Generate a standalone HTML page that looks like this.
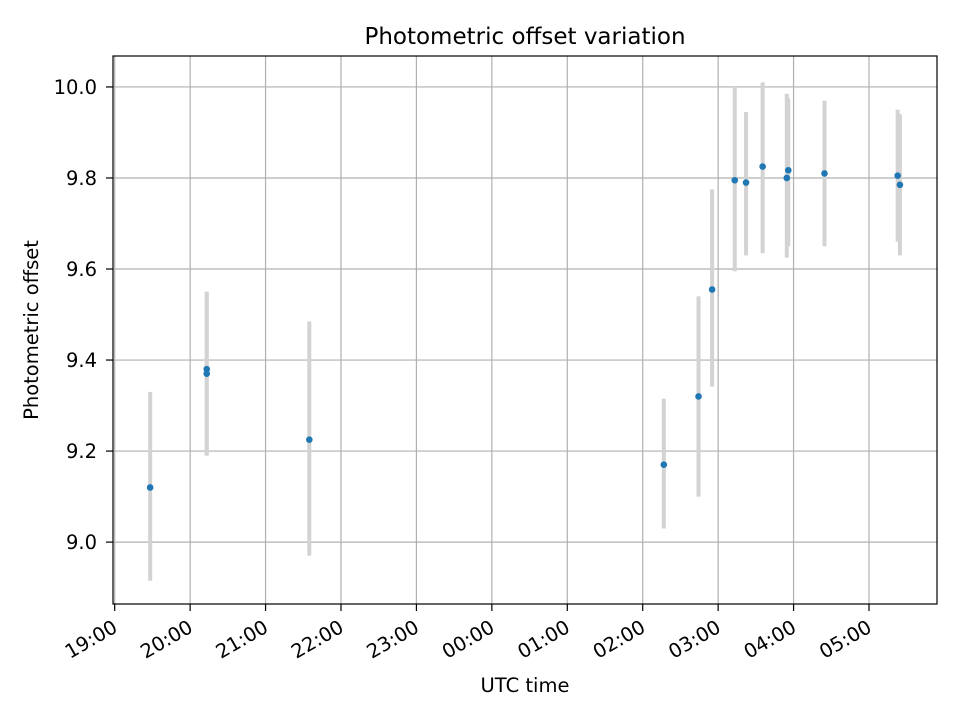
<!DOCTYPE html>
<html><head><meta charset="utf-8"><style>
body{margin:0;background:#fff;}
svg text{font-family:"DejaVu Sans","Liberation Sans",sans-serif;fill:#000;}
</style></head><body>
<svg id="chart" width="960" height="720" xmlns="http://www.w3.org/2000/svg">
<rect width="960" height="720" fill="#fff"/>
<g id="grid"></g><g id="bars"></g><g id="pts"></g><g id="axes"></g>
</svg>
<script>
const hours = [0.47,1.22,1.22,2.58,7.28,7.74,7.92,8.22,8.37,8.59,8.91,8.93,9.41,10.38,10.41];
const values = [9.12,9.38,9.37,9.225,9.17,9.32,9.555,9.795,9.79,9.825,9.80,9.817,9.81,9.805,9.785];
const lows = [8.915,9.19,9.19,8.97,9.03,9.10,9.342,9.595,9.63,9.635,9.625,9.65,9.65,9.66,9.63];
const highs = [9.33,9.55,9.55,9.485,9.315,9.54,9.775,10.0,9.945,10.01,9.985,9.975,9.97,9.95,9.94];
const xTickLabels = ["19:00","20:00","21:00","22:00","23:00","00:00","01:00","02:00","03:00","04:00","05:00"];
const yTickValues = [9.0,9.2,9.4,9.6,9.8,10.0];

const L=113,R=937,T=56,B=604;
const Y0=8.864,Y1=10.068;
const xs=h=>114.7+h*75.43;
const ys=v=>T+(Y1-v)/(Y1-Y0)*(B-T);
const NS="http://www.w3.org/2000/svg";
function mk(tag,attrs,parent,txt){const e=document.createElementNS(NS,tag);for(const k in attrs)e.setAttribute(k,attrs[k]);if(txt!==undefined)e.textContent=txt;parent.appendChild(e);return e;}
const grid=document.getElementById('grid'),bars=document.getElementById('bars'),pts=document.getElementById('pts'),axes=document.getElementById('axes');

xTickLabels.forEach((lab,i)=>{
  const x=xs(i);
  const g=mk('line',{x1:x,x2:x,y1:T,y2:B,stroke:'#b0b0b0','stroke-width':1.2},grid);
  
  
  const t=mk('line',{x1:x,x2:x,y1:B,y2:B+7,stroke:'#000','stroke-width':1.2},axes);
  
  
  const ax=x+4, ay=B+27;
  const tx=mk('text',{x:ax,y:ay,'font-size':19.5,'text-anchor':'end',transform:`rotate(-30 ${ax} ${ay})`},axes,lab);
  
  
});
yTickValues.forEach(v=>{
  const y=ys(v);
  const g=mk('line',{x1:L,x2:R,y1:y,y2:y,stroke:'#b0b0b0','stroke-width':1.2},grid);
  
  
  const t=mk('line',{x1:L-7,x2:L,y1:y,y2:y,stroke:'#000','stroke-width':1.2},axes);
  
  
  const tx=mk('text',{x:L-16,y:y+7,'font-size':19.5,'text-anchor':'end'},axes,v.toFixed(1));
  
  
});
hours.forEach((h,i)=>{
  const x=xs(h);
  const b=mk('line',{x1:x,x2:x,y1:ys(lows[i]),y2:ys(highs[i]),stroke:'#d3d3d3','stroke-width':4},bars);
  
  
  const p=mk('circle',{cx:x,cy:ys(values[i]),r:3.3,fill:'#1f77b4'},pts);
  
  
});
const fr=mk('rect',{x:L,y:T,width:R-L,height:B-T,fill:'none',stroke:'#000','stroke-width':1.2},axes);


const ti=mk('text',{x:(L+R)/2,y:44,'font-size':23,'text-anchor':'middle'},axes,'Photometric offset variation');


const xl=mk('text',{x:(L+R)/2,y:692,'font-size':19.5,'text-anchor':'middle'},axes,'UTC time');


const yl=mk('text',{x:38,y:330,'font-size':19.5,'text-anchor':'middle',transform:'rotate(-90 38 330)'},axes,'Photometric offset');


</script>
</body></html>
